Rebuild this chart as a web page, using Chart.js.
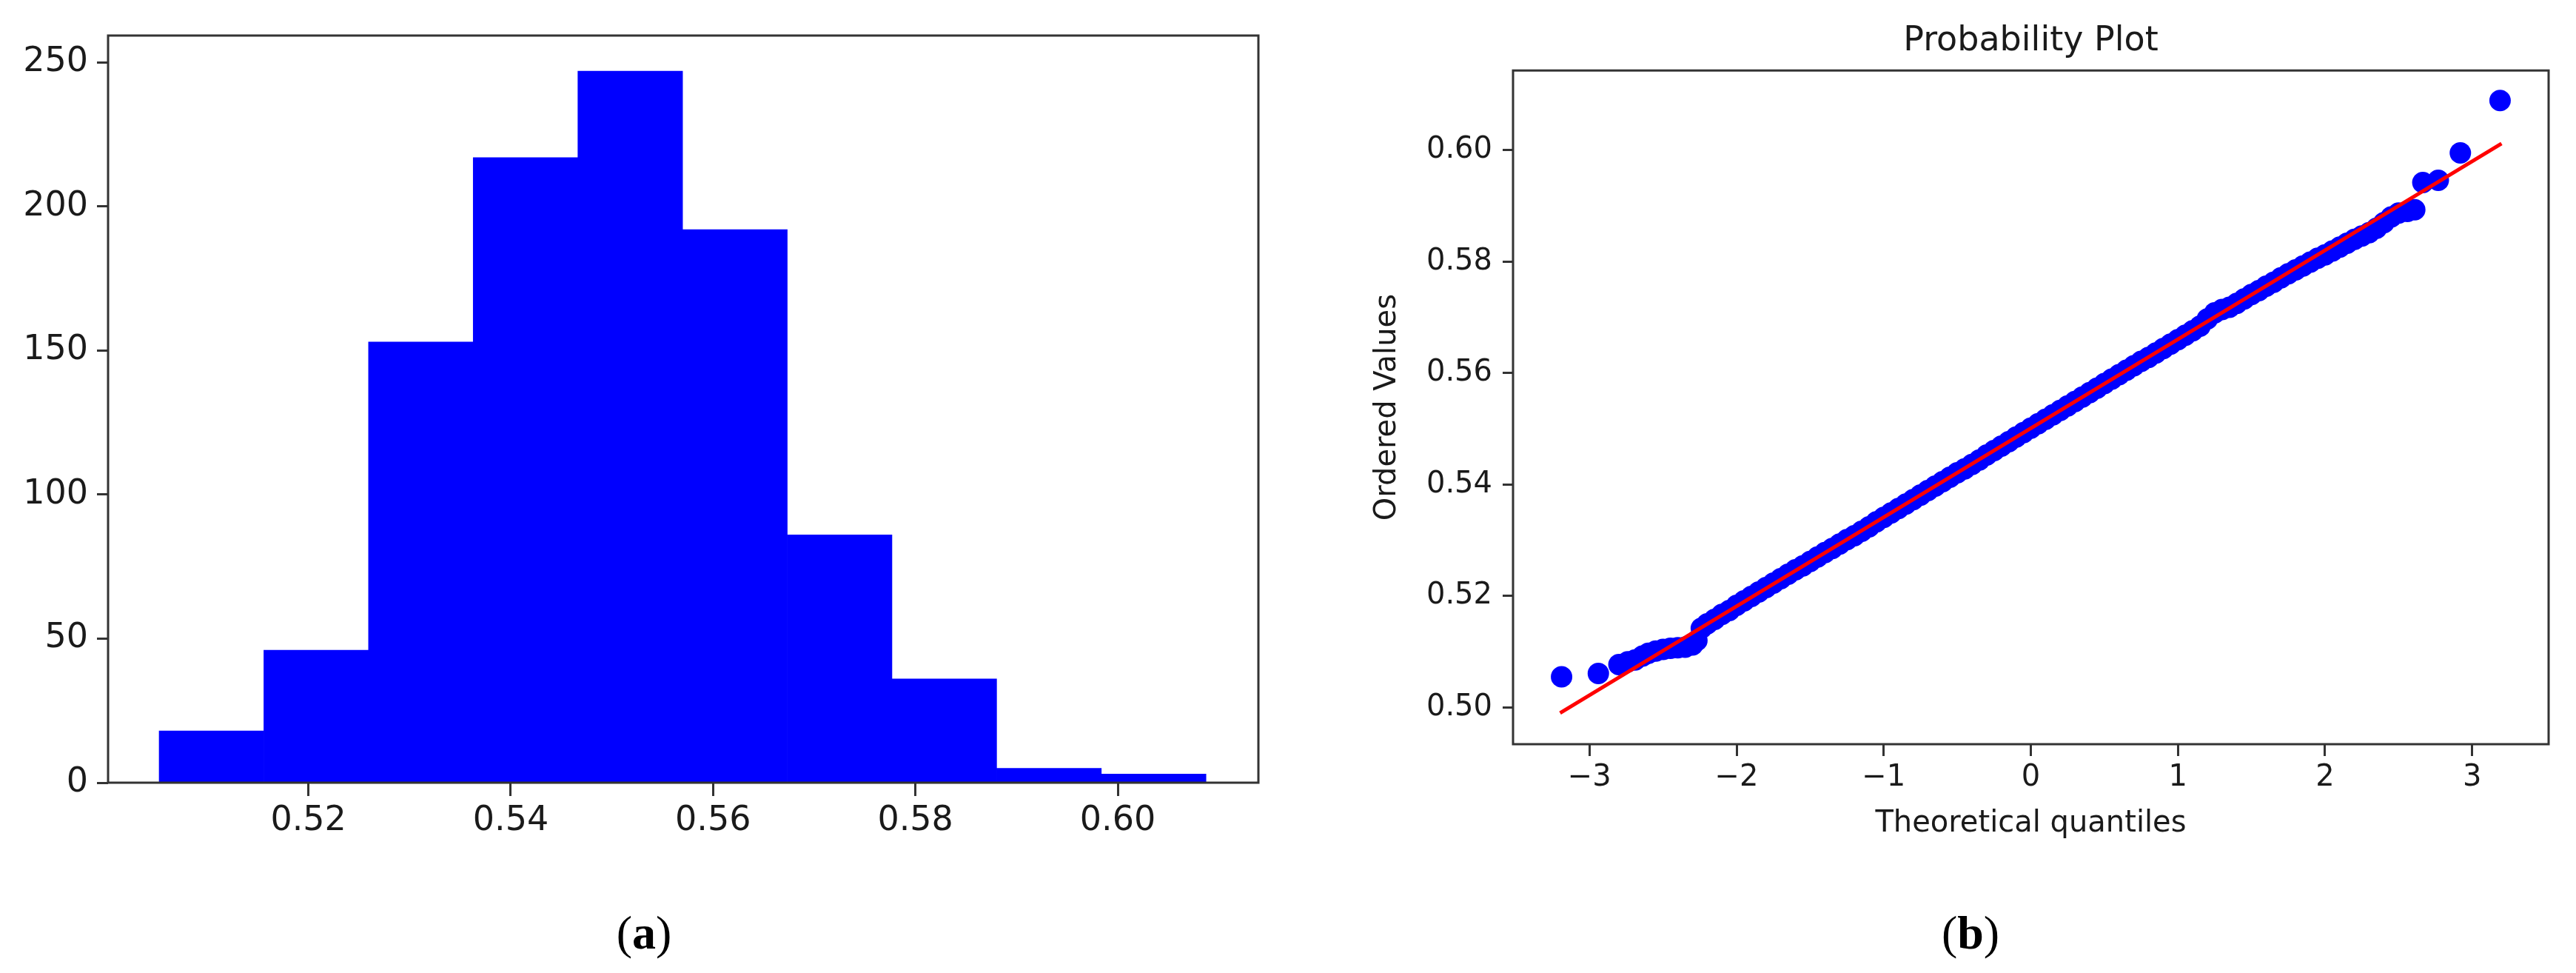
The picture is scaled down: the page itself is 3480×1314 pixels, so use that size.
<!DOCTYPE html>
<html>
<head>
<meta charset="utf-8">
<title>Histogram and probability plot</title>
<script src="https://cdn.jsdelivr.net/npm/chart.js@4.4.1/dist/chart.umd.min.js"></script>
<style>
  html, body { margin: 0; padding: 0; background: #fff; }
  body { width: 3480px; height: 1314px; position: relative; overflow: hidden; }
  .panel { position: absolute; top: 0; width: 1740px; height: 1314px; }
  #panelA { left: 0; }
  #panelB { left: 1740px; }
  .caption { position: absolute; top: 1225px; width: 200px; margin-left: -100px; text-align: center;
             font-family: "Liberation Serif", "DejaVu Serif", serif; font-size: 64px; line-height: 70px; color: #000; }
</style>
</head>
<body>
<div class="panel" id="panelA"><canvas id="histChart"></canvas></div>
<div class="panel" id="panelB"><canvas id="probChart"></canvas></div>
<div class="caption" style="left:870px">(<b>a</b>)</div>
<div class="caption" style="left:2662px">(<b>b</b>)</div>
<script>
// (a) histogram
const binEdges = [0.50525, 0.515597, 0.525944, 0.536291, 0.546638, 0.556985, 0.567332, 0.577679, 0.588026, 0.598373, 0.60872];
const binCounts = [18, 46, 153, 217, 247, 192, 86, 36, 5, 3];
const histXTicks = [0.52, 0.54, 0.56, 0.58, 0.60];
const histYTicks = [0, 50, 100, 150, 200, 250];

// (b) probability plot
const theoreticalQ = [
  -3.19, -2.94, -2.80, -2.74, -2.69, -2.64, -2.60, -2.55, -2.50, -2.45,
  -2.40, -2.35, -2.30, -2.27, -2.24, -2.20, -2.15, -2.10, -2.05, -2.00,
  -1.95, -1.90, -1.85, -1.80, -1.75, -1.70, -1.65, -1.60, -1.55, -1.50,
  -1.45, -1.40, -1.35, -1.30, -1.25, -1.20, -1.15, -1.10, -1.05, -1.00,
  -0.95, -0.90, -0.85, -0.80, -0.75, -0.70, -0.65, -0.60, -0.55, -0.50,
  -0.45, -0.40, -0.35, -0.30, -0.25, -0.20, -0.15, -0.10, -0.05, 0.00,
  0.05, 0.10, 0.15, 0.20, 0.25, 0.30, 0.35, 0.40, 0.45, 0.50,
  0.55, 0.60, 0.65, 0.70, 0.75, 0.80, 0.85, 0.90, 0.95, 1.00,
  1.05, 1.10, 1.15, 1.20, 1.25, 1.30, 1.35, 1.40, 1.45, 1.50,
  1.55, 1.60, 1.65, 1.70, 1.75, 1.80, 1.85, 1.90, 1.95, 2.00,
  2.05, 2.10, 2.15, 2.20, 2.25, 2.30, 2.35, 2.40, 2.45, 2.50,
  2.56, 2.61, 2.665, 2.77, 2.92, 3.19
];
const orderedValues = [
  0.5055, 0.5061, 0.5077, 0.5082, 0.5085, 0.5092, 0.5097, 0.5101, 0.5104, 0.5106,
  0.5107, 0.5108, 0.5112, 0.5120, 0.5142, 0.5150, 0.5158, 0.5167, 0.5174, 0.5183,
  0.5191, 0.5199, 0.5207, 0.5215, 0.5223, 0.5231, 0.5239, 0.5247, 0.5254, 0.5262,
  0.5270, 0.5278, 0.5285, 0.5293, 0.5301, 0.5308, 0.5316, 0.5324, 0.5333, 0.5341,
  0.5349, 0.5357, 0.5365, 0.5373, 0.5381, 0.5389, 0.5397, 0.5405, 0.5413, 0.5421,
  0.5428, 0.5436, 0.5444, 0.5453, 0.5461, 0.5469, 0.5477, 0.5485, 0.5493, 0.5501,
  0.5509, 0.5517, 0.5525, 0.5533, 0.5541, 0.5549, 0.5557, 0.5565, 0.5573, 0.5581,
  0.5589, 0.5597, 0.5605, 0.5613, 0.5621, 0.5628, 0.5636, 0.5644, 0.5652, 0.5660,
  0.5668, 0.5676, 0.5684, 0.5697, 0.5708, 0.5714, 0.5718, 0.5725, 0.5733, 0.5741,
  0.5748, 0.5756, 0.5763, 0.5771, 0.5778, 0.5785, 0.5792, 0.5799, 0.5806, 0.5812,
  0.5819, 0.5826, 0.5833, 0.5840, 0.5846, 0.5852, 0.5860, 0.5870, 0.5880, 0.5887,
  0.5890, 0.5893, 0.5942, 0.5946, 0.5995, 0.6089
];
const fitLineX = [-3.2, 3.2];
const fitLineY = [0.4990, 0.6012];
const probXTicks = [-3, -2, -1, 0, 1, 2, 3];
const probYTicks = [0.50, 0.52, 0.54, 0.56, 0.58, 0.60];

Chart.defaults.font.family = '"DejaVu Sans", sans-serif';
Chart.defaults.color = '#1a1a1a';

// matplotlib-like box around the plot area
const framePlugin = {
  id: 'frame',
  afterDatasetsDraw(chart) {
    const { ctx, chartArea: a } = chart;
    ctx.save();
    ctx.strokeStyle = '#333';
    ctx.lineWidth = 3;
    ctx.strokeRect(a.left, a.top, a.right - a.left, a.bottom - a.top);
    ctx.restore();
  }
};

function axis(tickValues, fmt, fontSize, tickLen, pad) {
  return {
    afterBuildTicks: s => { s.ticks = tickValues.map(v => ({ value: v })); },
    grid: { display: true, offset: false, drawOnChartArea: false, drawTicks: true,
            tickLength: tickLen, tickWidth: 3, tickColor: '#333' },
    border: { display: false },
    ticks: { font: { size: fontSize }, color: '#1a1a1a', padding: pad,
             maxRotation: 0, autoSkip: false, callback: fmt }
  };
}

const minus = v => (v < 0 ? '\u2212' + Math.abs(v) : String(v));

// histograma
new Chart(document.getElementById('histChart'), {
  type: 'bar',
  data: {
    datasets: [{
      data: binCounts.map((c, i) => ({ x: (binEdges[i] + binEdges[i + 1]) / 2, y: c })),
      backgroundColor: '#0000ff',
      borderWidth: 0,
      barPercentage: 1,
      categoryPercentage: 1
    }]
  },
  options: {
    responsive: true,
    maintainAspectRatio: false,
    animation: false,
    devicePixelRatio: 1,
    layout: { padding: { top: 48, right: 40, bottom: 157, left: 0 } },
    plugins: { legend: { display: false }, tooltip: { enabled: false } },
    scales: {
      x: Object.assign(axis(histXTicks, v => v.toFixed(2), 46, 18, 6), {
        type: 'linear', min: 0.5002, max: 0.6139, offset: false,
        afterFit: s => { s.height = 100; }
      }),
      y: Object.assign(axis(histYTicks, v => String(v), 46, 15, 12), {
        min: 0, max: 259.35,
        afterFit: s => { s.width = 146; }
      })
    }
  },
  plugins: [framePlugin]
});

// probability plot
new Chart(document.getElementById('probChart'), {
  type: 'scatter',
  data: {
    datasets: [
      {
        data: fitLineX.map((x, i) => ({ x: x, y: fitLineY[i] })),
        showLine: true, borderColor: '#ff0000', borderWidth: 5, pointRadius: 0, order: 0
      },
      {
        data: theoreticalQ.map((x, i) => ({ x: x, y: orderedValues[i] })),
        backgroundColor: '#0000ff', borderWidth: 0, pointRadius: 14.5, order: 1
      }
    ]
  },
  options: {
    responsive: true,
    maintainAspectRatio: false,
    animation: false,
    devicePixelRatio: 1,
    layout: { padding: { top: 0, right: 37, bottom: 159, left: 0 } },
    plugins: {
      legend: { display: false },
      tooltip: { enabled: false },
      title: {
        display: true, text: 'Probability Plot', fullSize: false,
        font: { size: 46, weight: 'normal' }, color: '#1a1a1a',
        padding: { top: 28, bottom: 12 }
      }
    },
    scales: {
      x: Object.assign(axis(probXTicks, minus, 40, 16, 6), {
        type: 'linear', min: -3.52, max: 3.52,
        title: { display: true, text: 'Theoretical quantiles', font: { size: 40 }, color: '#1a1a1a',
                 padding: { top: 0, bottom: 18 } },
        afterFit: s => { s.height = 150; }
      }),
      y: Object.assign(axis(probYTicks, v => v.toFixed(2), 40, 14, 14), {
        min: 0.4934, max: 0.6143,
        title: { display: true, text: 'Ordered Values', font: { size: 40 }, color: '#1a1a1a',
                 padding: { top: 111, bottom: 0 } },
        afterFit: s => { s.width = 304; }
      })
    }
  },
  plugins: [framePlugin]
});
</script>
</body>
</html>
